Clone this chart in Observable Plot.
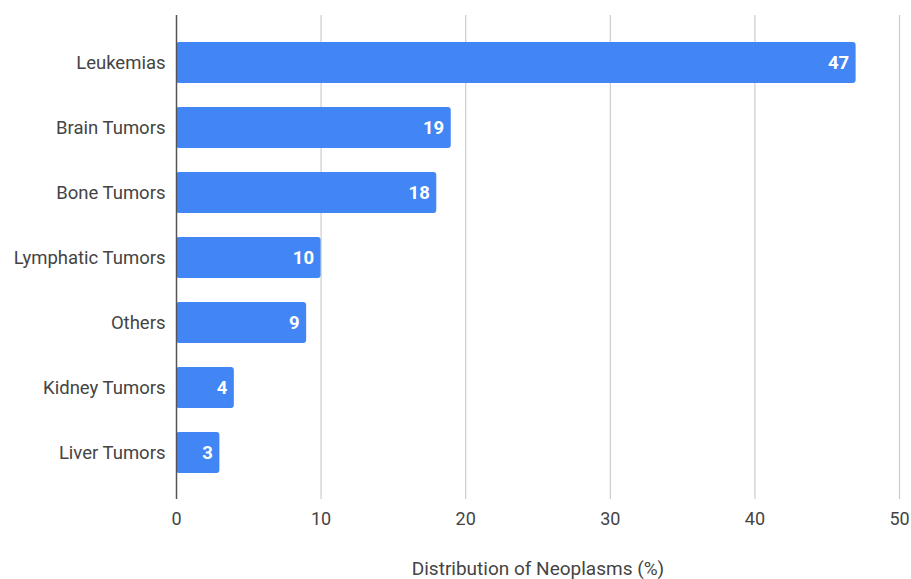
<!DOCTYPE html>
<html>
<head>
<meta charset="utf-8">
<script src="https://cdn.jsdelivr.net/npm/d3@7"></script>
<script src="https://cdn.jsdelivr.net/npm/@observablehq/plot@0.6"></script>
<style>
  html, body { margin: 0; padding: 0; background: #fff; }
  #chart svg { display: block; }
</style>
</head>
<body>
<div id="chart"></div>
<script>
const categories = ["Leukemias", "Brain Tumors", "Bone Tumors", "Lymphatic Tumors", "Others", "Kidney Tumors", "Liver Tumors"];
const values = [47, 19, 18, 10, 9, 4, 3];
const xTicks = [0, 10, 20, 30, 40, 50];
const xLabel = "Distribution of Neoplasms (%)";

const data = categories.map((c, i) => ({category: c, value: values[i]}));

const chart = Plot.plot({
  width: 911,
  height: 579,
  marginLeft: 176,
  marginRight: 12,
  marginTop: 15,
  marginBottom: 80,
  style: {fontFamily: "Roboto, sans-serif", background: "#fff"},
  x: {domain: [0, 50], ticks: xTicks},
  y: {domain: categories, paddingInner: 0.375, paddingOuter: 0.4},
  marks: [
    Plot.gridX(xTicks.filter(d => d !== 0), {stroke: "#cccccc", strokeOpacity: 1, strokeWidth: 1.2}),
    Plot.barX(data, {x: "value", y: "category", fill: "#4285f4", rx: 3}),
    Plot.ruleX([0], {stroke: "#555", strokeWidth: 1.5}),
    Plot.text(data, {x: "value", y: "category", text: d => String(d.value), textAnchor: "end", dx: -7, fill: "#fff", fontWeight: "bold", fontSize: 18.5}),
    Plot.axisX(xTicks, {tickSize: 0, tickPadding: 13, fontSize: 18, color: "#444", label: null}),
    Plot.axisY({tickSize: 0, tickPadding: 11, fontSize: 18.5, color: "#444", label: null}),
    Plot.text([xLabel], {frameAnchor: "bottom", dy: 69, fontSize: 19, fill: "#444", lineAnchor: "middle"})
  ]
});
document.getElementById("chart").appendChild(chart);
</script>
</body>
</html>
